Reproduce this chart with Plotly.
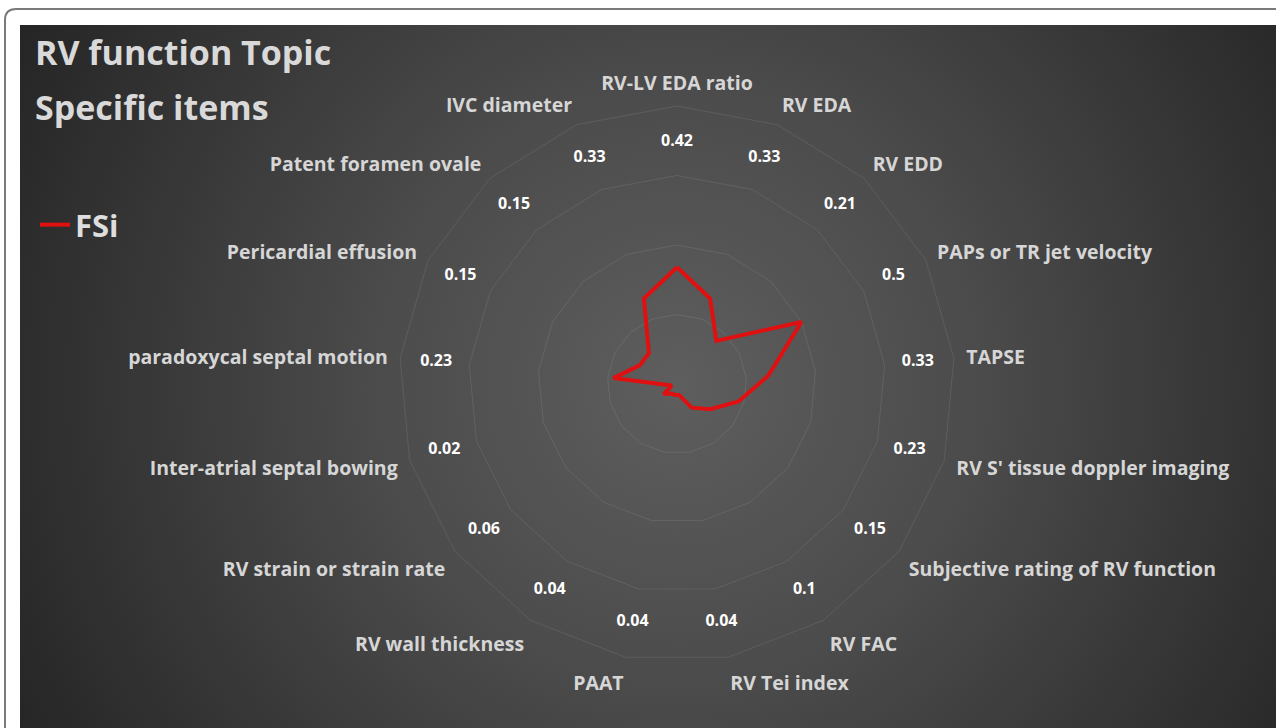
import base64
import plotly.graph_objects as go

categories = [
    "RV-LV EDA ratio", "RV EDA", "RV EDD", "PAPs or TR jet velocity", "TAPSE",
    "RV S' tissue doppler imaging", "Subjective rating of RV function", "RV FAC",
    "RV Tei index", "PAAT", "RV wall thickness", "RV strain or strain rate",
    "Inter-atrial septal bowing", "paradoxycal septal motion", "Pericardial effusion",
    "Patent foramen ovale", "IVC diameter",
]
fsi_values = [0.42, 0.33, 0.21, 0.5, 0.33, 0.23, 0.15, 0.1, 0.04, 0.04, 0.04,
              0.06, 0.02, 0.23, 0.15, 0.15, 0.33]
value_label_r = [0.87] * len(categories)
radial_ticks = [0.25, 0.5, 0.75, 1.0]

W, H = 1276, 728
cx, cy, R = 677, 384, 278
FONT = "Open Sans"
LABEL = "#d6d6d6"
GRID = "rgba(255,255,255,0.09)"

fig = go.Figure()
fig.add_trace(go.Scatterpolar(
    r=fsi_values + fsi_values[:1],
    theta=categories + categories[:1],
    mode="lines",
    name="FSi",
    line=dict(color="#e01010", width=4),
))
fig.add_trace(go.Scatterpolar(
    r=value_label_r,
    theta=categories,
    mode="text",
    text=[f"{v:g}" for v in fsi_values],
    textfont=dict(family=FONT, size=16, color="#ffffff", weight="bold"),
    showlegend=False,
    hoverinfo="skip",
))

# radial gradient background as SVG image
bx0, by0 = 20, 25
bw, bh = W - bx0, H - by0
svg = f"""<svg xmlns='http://www.w3.org/2000/svg' width='{bw}' height='{bh}' viewBox='0 0 {bw} {bh}' preserveAspectRatio='none'>
<defs><radialGradient id='g' gradientUnits='userSpaceOnUse' cx='{cx-bx0}' cy='{cy-by0}' r='760'>
<stop offset='0' stop-color='#5e5e5e'/><stop offset='0.4' stop-color='#4b4b4b'/><stop offset='1' stop-color='#242424'/>
</radialGradient></defs><rect width='{bw}' height='{bh}' fill='url(#g)'/></svg>"""
src = "data:image/svg+xml;base64," + base64.b64encode(svg.encode()).decode()

fig.update_layout(
    width=W, height=H,
    margin=dict(l=0, r=0, t=0, b=0),
    paper_bgcolor="#ffffff",
    images=[dict(source=src, xref="paper", yref="paper", x=bx0 / W, y=1 - by0 / H,
                 sizex=bw / W, sizey=bh / H, xanchor="left", yanchor="top",
                 sizing="stretch", layer="below")],
    polar=dict(
        domain=dict(x=[(cx - R) / W, (cx + R) / W], y=[(H - cy - R) / H, (H - cy + R) / H]),
        bgcolor="rgba(0,0,0,0)",
        gridshape="linear",
        radialaxis=dict(range=[0, 1], tickvals=radial_ticks, showticklabels=False,
                        ticks="", showline=False, gridcolor=GRID, gridwidth=1),
        angularaxis=dict(direction="clockwise", rotation=90, categoryorder="array",
                         categoryarray=categories, showgrid=False, showline=True,
                         linecolor=GRID, linewidth=1, ticks="outside", ticklen=8,
                         tickcolor="rgba(0,0,0,0)",
                         tickfont=dict(family=FONT, size=19.5, color=LABEL, weight="bold")),
    ),
    showlegend=True,
    legend=dict(x=35 / W, y=1 - 198 / H, xanchor="left", yanchor="top",
                bgcolor="rgba(0,0,0,0)",
                font=dict(family=FONT, size=31, color="#dedede", weight="bold")),
    shapes=[dict(type="path", xref="paper", yref="paper",
                 path=f"M {5/W},0 L {5/W},{1-20/H} Q {5/W},{1-9/H} {16/W},{1-9/H} L 1,{1-9/H}",
                 line=dict(color="#7a7a7a", width=2))],
    annotations=[
        dict(text="RV function Topic", x=33 / W, y=1 - 27 / H, xref="paper", yref="paper",
             xanchor="left", yanchor="top", showarrow=False,
             font=dict(family=FONT, size=34, color="#d9d9d9", weight="bold")),
        dict(text="Specific items", x=33 / W, y=1 - 82 / H, xref="paper", yref="paper",
             xanchor="left", yanchor="top", showarrow=False,
             font=dict(family=FONT, size=34, color="#d9d9d9", weight="bold")),
    ],
)
fig.write_html("out.html", config={"displayModeBar": False},
               post_script="document.body.style.margin='0';document.body.style.overflow='hidden';")
